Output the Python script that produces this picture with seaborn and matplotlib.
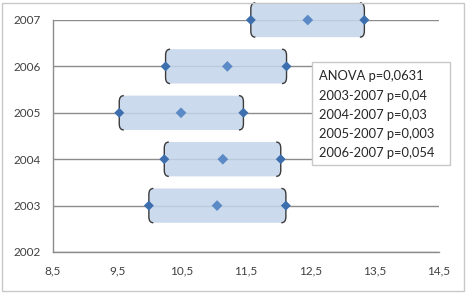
import matplotlib
matplotlib.use("Agg")
import matplotlib.pyplot as plt
from matplotlib.path import Path
from matplotlib.patches import PathPatch, Rectangle
import seaborn as sns
import pandas as pd

years = [2003, 2004, 2005, 2006, 2007]
lower = [9.99, 10.23, 9.53, 10.25, 11.575]
means = [11.05, 11.14, 10.49, 11.21, 12.46]
upper = [12.12, 12.04, 11.46, 12.13, 13.34]
x_ticks = [8.5, 9.5, 10.5, 11.5, 12.5, 13.5, 14.5]
y_ticks = [2002, 2003, 2004, 2005, 2006, 2007]
legend_lines = ["ANOVA p=0,0631", "2003-2007 p=0,04", "2004-2007 p=0,03",
                "2005-2007 p=0,003", "2006-2007 p=0,054"]

sns.set_style("white")
plt.rcParams['font.family'] = ['Lato', 'DejaVu Sans']

W, H = 469, 293
fig = plt.figure(figsize=(W / 100, H / 100), dpi=100)
ax = fig.add_axes([53 / W, 1 - 252 / H, (439 - 53) / W, (252 - 20) / H])

grey = "#8c8c8c"
txt = "#404040"

# boxes
half = 0.37
rx, ry = 0.07, 0.13
fill_c = "#c3d4ea"
edge_c = "#3b3b3b"


def rounded(x0, x1, y0, y1):
    verts = [(x0 + rx, y0), (x1 - rx, y0), (x1, y0), (x1, y0 + ry),
             (x1, y1 - ry), (x1, y1), (x1 - rx, y1), (x0 + rx, y1),
             (x0, y1), (x0, y1 - ry), (x0, y0 + ry), (x0, y0), (x0 + rx, y0)]
    codes = [Path.MOVETO, Path.LINETO, Path.CURVE3, Path.CURVE3,
             Path.LINETO, Path.CURVE3, Path.CURVE3, Path.LINETO,
             Path.CURVE3, Path.CURVE3, Path.LINETO, Path.CURVE3, Path.CURVE3]
    return Path(verts, codes)


def bracket(x, y0, y1, side):
    s = 1 if side == "left" else -1
    verts = [(x + s * rx, y0), (x, y0), (x, y0 + ry), (x, y1 - ry), (x, y1), (x + s * rx, y1)]
    codes = [Path.MOVETO, Path.CURVE3, Path.CURVE3, Path.LINETO, Path.CURVE3, Path.CURVE3]
    return Path(verts, codes)


for yv, lo, hi in zip(years, lower, upper):
    ax.add_patch(PathPatch(rounded(lo, hi, yv - half, yv + half), facecolor=fill_c,
                           edgecolor="none", alpha=0.85, zorder=3, clip_on=False))
    ax.add_patch(PathPatch(bracket(lo, yv - half, yv + half, "left"), facecolor="none",
                           edgecolor=edge_c, lw=1.0, zorder=4, clip_on=False))
    ax.add_patch(PathPatch(bracket(hi, yv - half, yv + half, "right"), facecolor="none",
                           edgecolor=edge_c, lw=1.0, zorder=4, clip_on=False))

df_mean = pd.DataFrame({"year": years, "value": means})
df_ends = pd.DataFrame({"year": years * 2, "value": lower + upper})
sns.scatterplot(data=df_ends, x="value", y="year", marker="D", s=26, color="#3d6fae",
                edgecolor="none", ax=ax, zorder=5)
sns.scatterplot(data=df_mean, x="value", y="year", marker="D", s=30, color="#5b8ac6",
                edgecolor="none", ax=ax, zorder=5)
for coll in ax.collections:
    coll.set_clip_on(False)

ax.set_xlim(8.5, 14.5)
ax.set_ylim(2002, 2007)
ax.set_xticks(x_ticks)
ax.set_xticklabels([str(v).replace(".", ",") for v in x_ticks])
ax.set_yticks(y_ticks)
ax.set_yticklabels([str(v) for v in y_ticks])
ax.set_xlabel("")
ax.set_ylabel("")
ax.grid(axis="y", color=grey, lw=1.0, zorder=2)
ax.grid(axis="x", visible=False)
ax.set_axisbelow(False)
for sp in ["top", "right"]:
    ax.spines[sp].set_visible(False)
for sp in ["left", "bottom"]:
    ax.spines[sp].set_color(grey)
    ax.spines[sp].set_linewidth(1.0)
ax.tick_params(axis="both", which="both", length=4, width=1, color=grey,
               labelsize=8.5, labelcolor=txt, direction="out", pad=6)
ax.tick_params(axis="y", pad=5)

# legend text box
fig.patches.append(Rectangle((312 / W, 1 - 165 / H), 138 / W, 103 / H,
                             transform=fig.transFigure, facecolor="white",
                             edgecolor="#c8c8c8", lw=1.0, zorder=10))
ys = [76, 95.5, 115, 134, 153.3]
for line, yp in zip(legend_lines, ys):
    fig.text(319 / W, 1 - yp / H, line, fontsize=9.3, color="#262626",
             ha="left", va="center", zorder=11)

# figure border
fig.patches.append(Rectangle((2 / W, 2 / H), 462 / W, 288 / H, transform=fig.transFigure,
                             facecolor="none", edgecolor="#c8c8c8", lw=1.0, zorder=12))

fig.savefig("out.png", dpi=100)
